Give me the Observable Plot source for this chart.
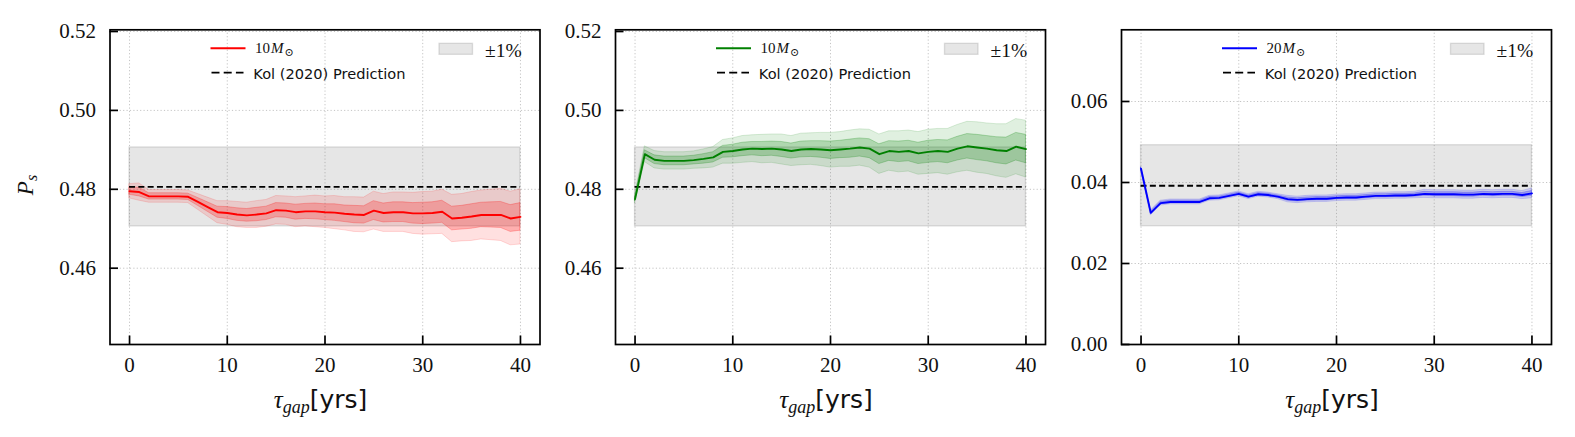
<!DOCTYPE html>
<html>
<head>
<meta charset="utf-8">
<script src="https://cdn.jsdelivr.net/npm/d3@7"></script>
<script src="https://cdn.jsdelivr.net/npm/@observablehq/plot@0.6"></script>
<style>
  body { margin: 0; background: #fff; }
  #root { position: relative; width: 1575px; height: 437px; background: #fff; overflow: hidden; }
  #root > svg { position: absolute; top: 0; }
</style>
</head>
<body>
<div id="root"></div>
<script>
// ---- data ----
const tau = [0,1,2,3,4,5,6,7,8,9,10,11,12,13,14,15,16,17,18,19,20,21,22,23,24,25,26,27,28,29,30,31,32,33,34,35,36,37,38,39,40];

const redMean = [0.4795,0.4793,0.4782,0.4782,0.4782,0.4782,0.4781,0.4768,0.4755,0.4742,0.4740,0.4736,0.4734,0.4736,0.4739,0.4747,0.4746,0.4742,0.4744,0.4744,0.4742,0.4741,0.4738,0.4736,0.4735,0.4746,0.4740,0.4742,0.4742,0.4739,0.4739,0.4740,0.4743,0.4726,0.4728,0.4731,0.4735,0.4735,0.4735,0.4726,0.4730];
const redSigma = [0.0009,0.0011,0.0008,0.0008,0.0008,0.0008,0.0008,0.0010,0.0012,0.0014,0.0015,0.0016,0.0016,0.0017,0.0017,0.0018,0.0018,0.0019,0.0019,0.0020,0.0020,0.0021,0.0021,0.0022,0.0022,0.0024,0.0024,0.0025,0.0025,0.0026,0.0027,0.0027,0.0028,0.0030,0.0030,0.0031,0.0031,0.0032,0.0033,0.0034,0.0035];

const greenMean = [0.4775,0.4889,0.4875,0.4872,0.4872,0.4872,0.4874,0.4877,0.4881,0.4895,0.4897,0.4901,0.4903,0.4902,0.4903,0.4901,0.4897,0.4901,0.4902,0.4901,0.4899,0.4901,0.4903,0.4906,0.4903,0.4889,0.4897,0.4895,0.4897,0.4891,0.4895,0.4897,0.4895,0.4903,0.4909,0.4906,0.4903,0.4899,0.4897,0.4908,0.4902];
const greenSigma = [0.0005,0.0010,0.0011,0.0011,0.0011,0.0011,0.0011,0.0012,0.0013,0.0015,0.0016,0.0017,0.0017,0.0018,0.0018,0.0019,0.0019,0.0020,0.0020,0.0021,0.0022,0.0022,0.0023,0.0023,0.0024,0.0025,0.0025,0.0026,0.0026,0.0027,0.0028,0.0028,0.0029,0.0030,0.0031,0.0032,0.0032,0.0033,0.0034,0.0035,0.0036];

const blueMean = [0.0434,0.0325,0.0349,0.0352,0.0352,0.0352,0.0352,0.0361,0.0362,0.0367,0.0372,0.0365,0.0371,0.0369,0.0365,0.0359,0.0357,0.0359,0.0360,0.0360,0.0362,0.0363,0.0363,0.0365,0.0367,0.0367,0.0368,0.0368,0.0369,0.0372,0.0371,0.0371,0.0371,0.0370,0.0370,0.0372,0.0371,0.0372,0.0372,0.0369,0.0373];
const blueSigma = [0.0002,0.0003,0.0003,0.0003,0.0003,0.0003,0.0003,0.0003,0.0003,0.0003,0.0003,0.0003,0.0003,0.0003,0.0003,0.0004,0.0004,0.0004,0.0004,0.0004,0.0004,0.0004,0.0004,0.0004,0.0004,0.0004,0.0004,0.0004,0.0004,0.0005,0.0005,0.0005,0.0005,0.0005,0.0005,0.0005,0.0005,0.0005,0.0005,0.0005,0.0006];

const predictions = [0.4806, 0.4806, 0.0392];   // Kol (2020) prediction per panel
const bandHalf = 0.01;                           // ±1%
const bandX = [0, 40];
const seriesLabels = ["10", "10", "20"];          // M_sun labels
const seriesColors = ["#ff0000", "#008000", "#0000ff"];

const xTicks = [0, 10, 20, 30, 40];
const yTicksP = [0.46, 0.48, 0.50, 0.52];
const yTicksB = [0.00, 0.02, 0.04, 0.06];

// ---- layout ----
const root = document.getElementById("root");
const FW = 430, TOP = 29.3, BOTTOM = 344, H = 437;
const FH = BOTTOM - TOP;
const serif = "'Liberation Serif', 'DejaVu Serif', serif";
const sans = "'DejaVu Sans', sans-serif";

function panel({svgLeft, marginLeft, mean, sigma, color, pred, yDomain, yTicks, mass, yLabel}) {
  const rows = tau.map((t, i) => ({t, m: mean[i], s: sigma[i]}));
  const marginRight = 8;
  const chart = Plot.plot({
    width: marginLeft + FW + marginRight,
    height: H,
    marginLeft, marginRight,
    marginTop: TOP,
    marginBottom: H - BOTTOM,
    x: {domain: [-2, 42]},
    y: {domain: yDomain},
    style: {background: "transparent", overflow: "visible"},
    marks: [
      Plot.gridX(xTicks, {stroke: "#c4c4c4", strokeOpacity: 1, strokeWidth: 1, strokeDasharray: "1.2,2.2"}),
      Plot.gridY(yTicks, {stroke: "#c4c4c4", strokeOpacity: 1, strokeWidth: 1, strokeDasharray: "1.2,2.2"}),
      Plot.rect([pred], {x1: () => bandX[0], x2: () => bandX[1], y1: d => d - bandHalf, y2: d => d + bandHalf,
        fill: "#808080", fillOpacity: 0.2, stroke: "#808080", strokeOpacity: 0.25, strokeWidth: 1.3}),
      Plot.areaY(rows, {x: "t", y1: d => d.m - 2 * d.s, y2: d => d.m + 2 * d.s,
        fill: color, fillOpacity: 0.12, stroke: color, strokeOpacity: 0.14, strokeWidth: 1}),
      Plot.areaY(rows, {x: "t", y1: d => d.m - d.s, y2: d => d.m + d.s,
        fill: color, fillOpacity: 0.22, stroke: color, strokeOpacity: 0.24, strokeWidth: 1}),
      Plot.ruleY([pred], {x1: () => bandX[0], x2: () => bandX[1], stroke: "black", strokeWidth: 1.8, strokeDasharray: "6,3.3"}),
      Plot.lineY(rows, {x: "t", y: "m", stroke: color, strokeWidth: 1.9}),
      Plot.frame({stroke: "black", strokeWidth: 1.7}),
      Plot.tickY(yTicks, {y: d => d, insetRight: FW - 8.5, stroke: "black", strokeWidth: 1.7}),
      Plot.tickX(xTicks, {x: d => d, insetTop: FH - 8.5, stroke: "black", strokeWidth: 1.7}),
      Plot.axisY(yTicks, {tickSize: 0, tickPadding: 14, tickFormat: d3.format(".2f"), fontSize: 21, fontFamily: serif, label: null, fill: "#111"}),
      Plot.axisX(xTicks, {tickSize: 0, tickPadding: 13, tickFormat: d3.format("d"), fontSize: 21, fontFamily: serif, label: null, fill: "#111"})
    ]
  });
  chart.style.left = svgLeft + "px";
  root.appendChild(chart);

  const svg = d3.select(chart);
  const L = marginLeft;
  const g = svg.append("g").attr("text-anchor", "start");

  // legend 1
  g.append("line").attr("x1", L + 101).attr("x2", L + 136).attr("y1", 48.3).attr("y2", 48.3)
    .attr("stroke", color).attr("stroke-width", 1.9);
  const t1 = g.append("text").attr("x", L + 145.5).attr("y", 52.8).attr("text-anchor", "start")
    .attr("font-family", serif).attr("font-size", 15).attr("fill", "#111");
  t1.append("tspan").text(mass);
  t1.append("tspan").attr("font-style", "italic").attr("dx", 1).text("M");
  t1.append("tspan").attr("font-size", 11).attr("dy", 3).attr("dx", 1).text("⊙");

  g.append("line").attr("x1", L + 102).attr("x2", L + 134).attr("y1", 72.7).attr("y2", 72.7)
    .attr("stroke", "black").attr("stroke-width", 1.8).attr("stroke-dasharray", "8,4.2");
  g.append("text").attr("x", L + 143.8).attr("y", 78.8).attr("text-anchor", "start")
    .attr("font-family", sans).attr("font-size", 14.6).attr("fill", "#111")
    .text("Kol (2020) Prediction");

  // legend 2
  g.append("rect").attr("x", L + 329.5).attr("y", 43.3).attr("width", 33.5).attr("height", 11)
    .attr("fill", "#808080").attr("fill-opacity", 0.2).attr("stroke", "#808080").attr("stroke-opacity", 0.25).attr("stroke-width", 1.3);
  g.append("text").attr("x", L + 375.5).attr("y", 57).attr("text-anchor", "start")
    .attr("font-family", serif).attr("font-size", 19.5).attr("fill", "#111")
    .text("±1%");

  // x label
  const xl = g.append("text").attr("x", L + FW / 2 - 4).attr("y", 407.5)
    .attr("text-anchor", "middle").attr("font-size", 25).attr("fill", "#111");
  xl.append("tspan").attr("font-family", serif).attr("font-style", "italic").text("τ");
  xl.append("tspan").attr("font-family", serif).attr("font-style", "italic").attr("font-size", 18).attr("dy", 5).text("gap");
  xl.append("tspan").attr("font-family", sans).attr("dy", -5).text("[yrs]");

  if (yLabel) {
    const yl = g.append("text").attr("transform", "translate(32.5,185) rotate(-90)")
      .attr("text-anchor", "middle").attr("font-size", 23).attr("font-family", serif).attr("fill", "#111");
    yl.append("tspan").attr("font-style", "italic").text("P");
    yl.append("tspan").attr("font-style", "italic").attr("font-size", 16).attr("dy", 4).text("s");
  }
}

const yDomP = [0.44066, 0.52043];
const yDomB = [0, 0.0777];

panel({svgLeft: 0, marginLeft: 109.5, mean: redMean, sigma: redSigma, color: seriesColors[0],
  pred: predictions[0], yDomain: yDomP, yTicks: yTicksP, mass: seriesLabels[0], yLabel: true});
panel({svgLeft: 555, marginLeft: 60, mean: greenMean, sigma: greenSigma, color: seriesColors[1],
  pred: predictions[1], yDomain: yDomP, yTicks: yTicksP, mass: seriesLabels[1], yLabel: false});
panel({svgLeft: 1061, marginLeft: 60, mean: blueMean, sigma: blueSigma, color: seriesColors[2],
  pred: predictions[2], yDomain: yDomB, yTicks: yTicksB, mass: seriesLabels[2], yLabel: false});
</script>
</body>
</html>
